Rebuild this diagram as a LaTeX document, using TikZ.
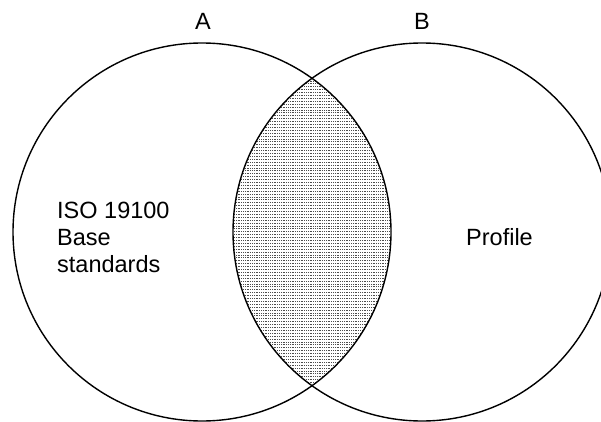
\documentclass[tikz,border=0pt]{standalone}
\usepackage{fontspec}
\setmainfont{Liberation Sans}
\begin{document}
\begin{tikzpicture}[x=1pt,y=-1pt,
  ring/.style={draw=black,line width=1.4pt,circle,minimum size=378pt,inner sep=0pt},
  lbl/.style={font=\fontsize{23.5}{27}\selectfont,inner sep=0pt},
  hatch/.style={line width=0.7pt,black!70,dash pattern=on 0.9pt off 0.9pt}]
\useasboundingbox (0,0) rectangle (601,422);
\coordinate (ca) at (202,232);
\coordinate (cb) at (422,232);
\begin{scope}
  \clip (ca) circle (189);
  \clip (cb) circle (189);
  \fill[white] (200,70) rectangle (420,400);
  \foreach \yy in {78,80.9,...,390} {
    \draw[hatch] (225,\yy) -- (400,\yy);
  }
\end{scope}
\node[ring] (A) at (ca) {};
\node[ring] (B) at (cb) {};
\node[lbl,anchor=base] (la) at (203,30) {A};
\node[lbl,anchor=base] (lb) at (422,30) {B};
\node[lbl,anchor=base west] (iso) at (57,218) {ISO 19100};
\node[lbl,anchor=base west] (base) at (57,245) {Base};
\node[lbl,anchor=base west] (std) at (57,272) {standards};
\node[lbl,anchor=base west] (prof) at (466,245) {Profile};
\end{tikzpicture}
\end{document}
